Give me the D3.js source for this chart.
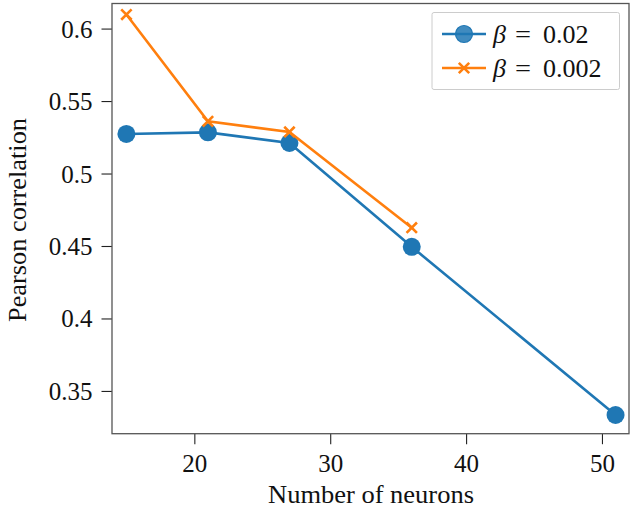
<!DOCTYPE html>
<html><head><meta charset="utf-8">
<script src="https://cdn.jsdelivr.net/npm/d3@7"></script>
<style>body{margin:0;background:#fff}svg{display:block}</style>
</head><body>
<script>
const xBlue = [15, 21, 27, 36, 51];
const yBlue = [0.5273, 0.5284, 0.5211, 0.4494, 0.3334];
const xOrange = [15, 21, 27, 36];
const yOrange = [0.6097, 0.536, 0.5287, 0.4626];
const xTicks = [20, 30, 40, 50];
const yTicks = [0.35, 0.4, 0.45, 0.5, 0.55, 0.6];
const yTickLabels = ["0.35", "0.4", "0.45", "0.5", "0.55", "0.6"];
const legendLabels = ["0.02", "0.002"];

const W = 630, H = 508;
const L = 112, R = 629, T = 3.5, B = 433.7;
const font = "'Liberation Serif', serif";
const blue = "#1f77b4", orange = "#ff7f0e";

const svg = d3.select("body").append("svg").attr("width", W).attr("height", H)
  .style("font-family", font);
const x = d3.scaleLinear().domain([13.94, 51.99]).range([L, R]);
const y = d3.scaleLinear().domain([0.3205, 0.6173]).range([B, T]);

// axes
const xAxis = svg.append("g").attr("transform", `translate(0,${B})`)
  .call(d3.axisBottom(x).tickValues(xTicks).tickSize(10.5).tickPadding(8).tickFormat(d3.format("d")));
const yAxis = svg.append("g").attr("transform", `translate(${L},0)`)
  .call(d3.axisLeft(y).tickValues(yTicks).tickSize(10.5).tickPadding(9).tickFormat((d,i)=>yTickLabels[i]));
[xAxis, yAxis].forEach(a => {
  a.attr("font-family", font).attr("font-size", 25);
  a.select(".domain").remove();
  a.selectAll("line").attr("stroke", "#222").attr("stroke-width", 1.1);
  a.selectAll("text").attr("font-family", font).attr("font-size", 25).attr("fill", "#111");
});
xAxis.selectAll("text").attr("dy", "0.8em");
yAxis.selectAll("text").attr("dy", "0.34em");

// frame
svg.append("rect").attr("x", L).attr("y", T).attr("width", R - L).attr("height", B - T)
  .attr("fill", "none").attr("stroke", "#555").attr("stroke-width", 1.3);

const line = d3.line().x(d => x(d[0])).y(d => y(d[1]));
const blueData = xBlue.map((v, i) => [v, yBlue[i]]);
const orangeData = xOrange.map((v, i) => [v, yOrange[i]]);

const cross = (g, cx, cy, s) => {
  g.append("path").attr("d", `M${cx-s},${cy-s}L${cx+s},${cy+s}M${cx-s},${cy+s}L${cx+s},${cy-s}`)
    .attr("stroke", orange).attr("stroke-width", 2.6).attr("fill", "none");
};

svg.append("path").datum(blueData).attr("d", line).attr("fill", "none")
  .attr("stroke", blue).attr("stroke-width", 2.6);
svg.append("g").selectAll("circle").data(blueData).join("circle")
  .attr("cx", d => x(d[0])).attr("cy", d => y(d[1])).attr("r", 9).attr("fill", blue);

svg.append("path").datum(orangeData).attr("d", line).attr("fill", "none")
  .attr("stroke", orange).attr("stroke-width", 2.6);
const og = svg.append("g");
orangeData.forEach(d => cross(og, x(d[0]), y(d[1]), 5.2));

// labels
svg.append("text").attr("x", 371).attr("y", 503).attr("text-anchor", "middle")
  .attr("font-family", font).attr("font-size", 25).attr("fill", "#111")
  .attr("textLength", 206).attr("lengthAdjust", "spacingAndGlyphs").text("Number of neurons");
svg.append("text").attr("transform", `translate(26,220) rotate(-90)`).attr("text-anchor", "middle")
  .attr("font-family", font).attr("font-size", 26).attr("fill", "#111")
  .attr("textLength", 204).attr("lengthAdjust", "spacingAndGlyphs").text("Pearson correlation");

// legend
const lg = svg.append("g");
lg.append("rect").attr("x", 432).attr("y", 12.5).attr("width", 187.5).attr("height", 77).attr("rx", 2)
  .attr("fill", "#fff").attr("fill-opacity", 0.8).attr("stroke", "#ccc").attr("stroke-width", 1);
const rows = [34, 68];
lg.append("line").attr("x1", 442).attr("x2", 486).attr("y1", rows[0]).attr("y2", rows[0])
  .attr("stroke", blue).attr("stroke-width", 2.6);
lg.append("circle").attr("cx", 464).attr("cy", rows[0]).attr("r", 8.5).attr("fill", blue).attr("fill-opacity", 0.85)
  .attr("stroke", blue).attr("stroke-width", 1.2);
lg.append("line").attr("x1", 442).attr("x2", 486).attr("y1", rows[1]).attr("y2", rows[1])
  .attr("stroke", orange).attr("stroke-width", 2.6);
cross(lg, 464, rows[1], 5.2);
legendLabels.forEach((lab, i) => {
  const base = rows[i] + 8.5;
  lg.append("text").attr("x", 493).attr("y", base).attr("font-family", font).attr("font-size", 26)
    .attr("font-style", "italic").attr("fill", "#111").text("β");
  lg.append("text").attr("x", 515).attr("y", base).attr("font-family", font).attr("font-size", 26)
    .attr("fill", "#111").attr("textLength", 16).attr("lengthAdjust", "spacingAndGlyphs").text("=");
  lg.append("text").attr("x", 543).attr("y", base).attr("font-family", font).attr("font-size", 26)
    .attr("fill", "#111").text(lab);
});
</script>
</body></html>
